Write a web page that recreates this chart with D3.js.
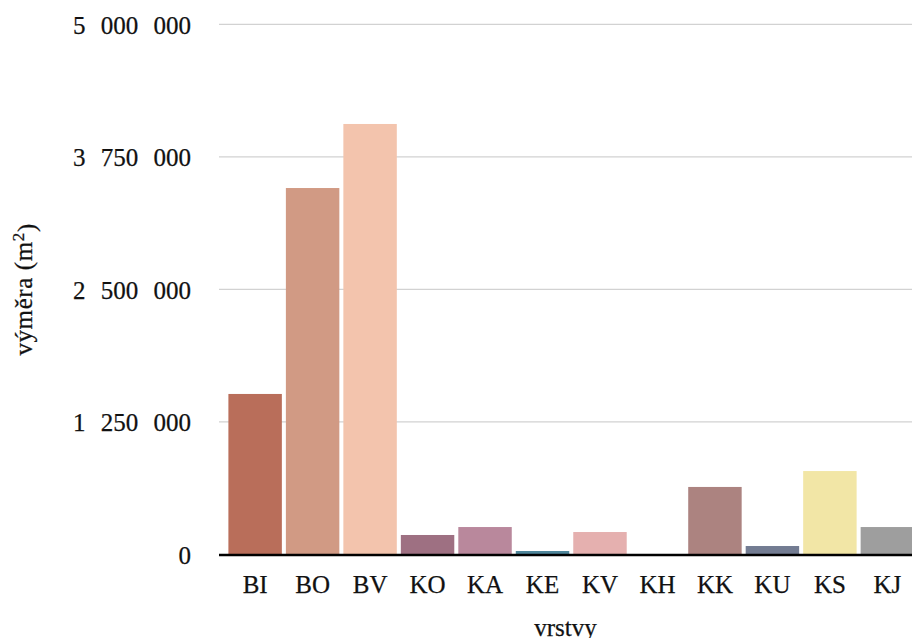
<!DOCTYPE html>
<html>
<head>
<meta charset="utf-8">
<script src="https://cdn.jsdelivr.net/npm/d3@7"></script>
<style>
  html, body { margin: 0; padding: 0; background: #fff; }
  svg { display: block; }
  text { font-family: "Liberation Serif", "DejaVu Serif", serif; fill: #111; stroke: #111; stroke-width: 0.25px; }
</style>
</head>
<body>
<svg id="chart" width="912" height="638"></svg>
<script>
// Land-cover layers and their area in m²
const categories = ["BI", "BO", "BV", "KO", "KA", "KE", "KV", "KH", "KK", "KU", "KS", "KJ"];
const areas = [1514000, 3456000, 4060000, 184000, 259000, 33000, 212000, 2000, 637000, 80000, 787000, 259000];
const barColors = ["#b96e5a", "#d19a84", "#f3c4ad", "#9e7082", "#b9889c", "#4f879c",
                   "#e5b0af", "#8c6d62", "#ac8380", "#737c92", "#f2e6a6", "#9e9e9e"];
const yTicks = [0, 1250000, 2500000, 3750000, 5000000];
const xTitle = "vrstvy";
const yTitle = "výměra (m";

const svg = d3.select("#chart");
const plot = { left: 219, right: 912, top: 24.3, bottom: 554.5 };

const x = d3.scaleBand()
  .domain(categories)
  .range([228.4, 914.1])
  .paddingInner(0.07)
  .paddingOuter(0);

const y = d3.scaleLinear()
  .domain([0, 5000000])
  .range([plot.bottom, plot.top]);

const fmt = d3.formatLocale({ decimal: ",", thousands: " ", grouping: [3], currency: ["", ""] }).format(",d");

// horizontal grid lines
svg.append("g")
  .selectAll("line")
  .data(yTicks.filter(d => d > 0))
  .join("line")
  .attr("x1", plot.left)
  .attr("x2", plot.right)
  .attr("y1", d => y(d))
  .attr("y2", d => y(d))
  .attr("stroke", "#d2d2d2")
  .attr("stroke-width", 1.2);

// y tick labels
svg.append("g")
  .selectAll("text")
  .data(yTicks)
  .join("text")
  .attr("x", 191)
  .attr("y", d => y(d))
  .attr("dy", "0.38em")
  .attr("text-anchor", "end")
  .style("font-size", "25px")
  .style("word-spacing", "9px")
  .text(d => fmt(d));

// bars
svg.append("g")
  .selectAll("rect")
  .data(categories.map((c, i) => ({ c, v: areas[i], col: barColors[i] })))
  .join("rect")
  .attr("x", d => x(d.c))
  .attr("width", x.bandwidth())
  .attr("y", d => y(d.v))
  .attr("height", d => y(0) - y(d.v))
  .attr("fill", d => d.col);

// zero baseline
svg.append("line")
  .attr("x1", plot.left)
  .attr("x2", plot.right)
  .attr("y1", y(0) + 0.5)
  .attr("y2", y(0) + 0.5)
  .attr("stroke", "#000")
  .attr("stroke-width", 2.4);

// x tick labels
svg.append("g")
  .selectAll("text")
  .data(categories)
  .join("text")
  .attr("x", d => x(d) + x.bandwidth() / 2)
  .attr("y", y(0) + 38.5)
  .attr("text-anchor", "middle")
  .style("font-size", "25px")
  .text(d => d);

// axis titles
svg.append("text")
  .attr("x", (plot.left + plot.right) / 2)
  .attr("y", 635.5)
  .attr("text-anchor", "middle")
  .style("font-size", "25px")
  .text(xTitle);

const yt = svg.append("text")
  .attr("transform", `translate(31.5, ${(plot.top + plot.bottom) / 2}) rotate(-90)`)
  .attr("text-anchor", "middle")
  .style("font-size", "25px")
  .style("letter-spacing", "0.6px");
yt.append("tspan").text(yTitle);
yt.append("tspan").attr("dy", "-0.45em").style("font-size", "17px").text("2");
yt.append("tspan").attr("dy", "0.45em").text(")");
</script>
</body>
</html>
